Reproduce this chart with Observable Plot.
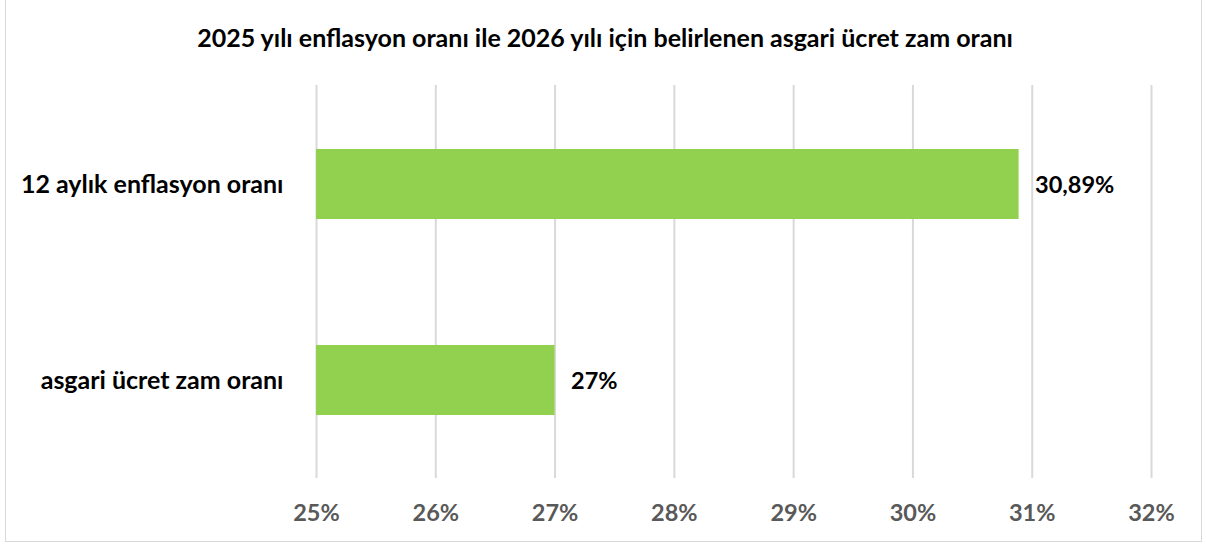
<!DOCTYPE html>
<html>
<head>
<meta charset="utf-8">
<script src="https://cdn.jsdelivr.net/npm/d3@7"></script>
<script src="https://cdn.jsdelivr.net/npm/@observablehq/plot@0.6"></script>
<style>
  html, body { margin: 0; padding: 0; background: #fff; }
  #wrap { position: relative; width: 1206px; height: 546px; overflow: hidden; font-family: Lato, "Open Sans", sans-serif; }
  #frame { position: absolute; left: 5px; top: -1px; width: 1197px; height: 543px; border: 1.5px solid #d9d9d9; box-sizing: border-box; }
  #title { position: absolute; left: 0; top: 24px; width: 1210px; text-align: center; font-weight: bold; font-size: 25px; line-height: 27px; color: #000; }
  #chart { position: absolute; left: 0; top: 0; }
</style>
</head>
<body>
<div id="wrap">
  <div id="frame"></div>
  <div id="chart"></div>
  <div id="title">2025 yılı enflasyon oranı ile 2026 yılı için belirlenen asgari ücret zam oranı</div>
</div>
<script>
const categories = ["12 aylık enflasyon oranı", "asgari ücret zam oranı"];
const values = [30.89, 27];
const tickValues = [25, 26, 27, 28, 29, 30, 31, 32];
const baseline = 25;

const data = categories.map((c, i) => ({category: c, value: values[i]}));
const fmtPct = v => v.toString().replace(".", ",") + "%";

const chart = Plot.plot({
  width: 1206,
  height: 546,
  marginTop: 85,
  marginBottom: 68,
  marginLeft: 316,
  marginRight: 55,
  style: {fontFamily: "Lato, 'Open Sans', sans-serif", background: "transparent", overflow: "visible"},
  x: {domain: [25, 32], ticks: tickValues},
  y: {domain: categories, paddingInner: 0.644, paddingOuter: 0.322},
  marks: [
    Plot.ruleX(tickValues, {stroke: "#d9d9d9", strokeWidth: 2}),
    Plot.barX(data, {x1: baseline, x2: "value", y: "category", fill: "#92d050"}),
    Plot.text(data, {x: "value", y: "category", text: d => fmtPct(d.value), textAnchor: "start", dx: 16, dy: 1, fontSize: 23.5, fontWeight: "bold", fill: "#000"}),
    Plot.axisX({ticks: tickValues, tickSize: 0, tickPadding: 26, tickFormat: d => d + "%", fontSize: 23.5, fontWeight: "bold", fill: "#595959", label: null}),
    Plot.axisY({tickSize: 0, tickPadding: 33, fontSize: 25, fontWeight: "bold", fill: "#000", label: null})
  ]
});
document.getElementById("chart").appendChild(chart);
</script>
</body>
</html>
